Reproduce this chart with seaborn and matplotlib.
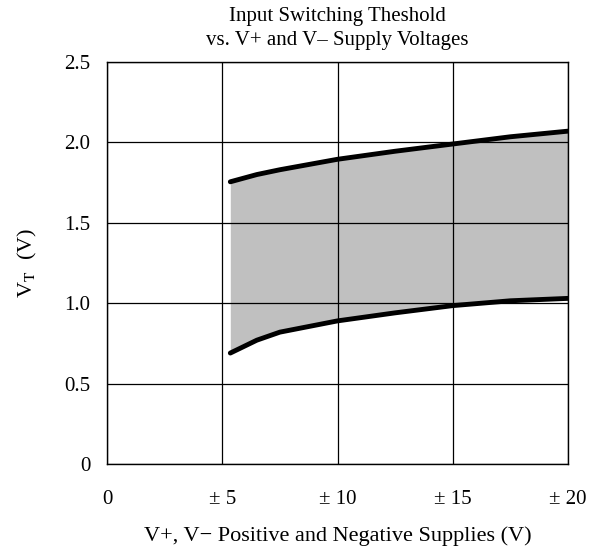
import matplotlib
matplotlib.use("Agg")
import matplotlib.pyplot as plt
import seaborn as sns
import pandas as pd

supply = [5.35, 6.5, 7.5, 10, 12.5, 15, 17.5, 20]
vt_high = [1.755, 1.80, 1.83, 1.895, 1.945, 1.99, 2.035, 2.07]
vt_low = [0.69, 0.77, 0.82, 0.89, 0.94, 0.985, 1.015, 1.03]
x_ticks = [0, 5, 10, 15, 20]
x_tick_labels = ["0", "± 5", "± 10", "± 15", "± 20"]
y_ticks = [0, 0.5, 1.0, 1.5, 2.0, 2.5]
y_tick_labels = ["0", "0.5", "1.0", "1.5", "2.0", "2.5"]

sns.set_theme(style="white")
plt.rcParams['font.family'] = ['Liberation Serif', 'DejaVu Serif']
plt.rcParams['mathtext.fontset'] = 'stix'

df = pd.DataFrame({"x": supply * 2,
                   "y": vt_high + vt_low,
                   "curve": ["high"] * len(supply) + ["low"] * len(supply)})

fig = plt.figure(figsize=(5.9, 5.52), dpi=100)
ax = fig.add_axes([107/590, 1 - 464/552, (568-107)/590, (464-62)/552])

ax.fill_between(supply, vt_low, vt_high, color="#c0c0c0", linewidth=0, zorder=1)
sns.lineplot(data=df, x="x", y="y", units="curve", estimator=None, color="black",
             linewidth=3.5, ax=ax, zorder=3, solid_capstyle="round")

ax.set_xlim(0, 20)
ax.set_ylim(0, 2.5)
ax.set_xticks(x_ticks)
ax.set_xticklabels(x_tick_labels)
ax.set_yticks(y_ticks)
ax.set_yticklabels(y_tick_labels)
ax.grid(True, color="black", linewidth=0.9, zorder=2)
ax.set_axisbelow(False)
for s in ax.spines.values():
    s.set_color("black")
    s.set_linewidth(1.0)
ax.tick_params(axis="x", length=0, pad=19, labelsize=15, colors="black")
ax.tick_params(axis="y", length=0, pad=12, labelsize=15, colors="black")

ax.set_xlabel("V+, V− Positive and Negative Supplies (V)", fontsize=16, labelpad=12, color="black")
ax.set_ylabel(r"V$_{\mathrm{T}}$  (V)", fontsize=16, labelpad=18, color="black")
cx = 0.5 * (107 + 568) / 590
fig.text(cx, 1 - 16/552, "Input Switching Theshold", ha="center", va="center",
         fontsize=15, color="black")
fig.text(cx, 1 - 41/552, "vs. V+ and V– Supply Voltages", ha="center", va="center",
         fontsize=15, color="black")

fig.savefig("out.png", dpi=100)
